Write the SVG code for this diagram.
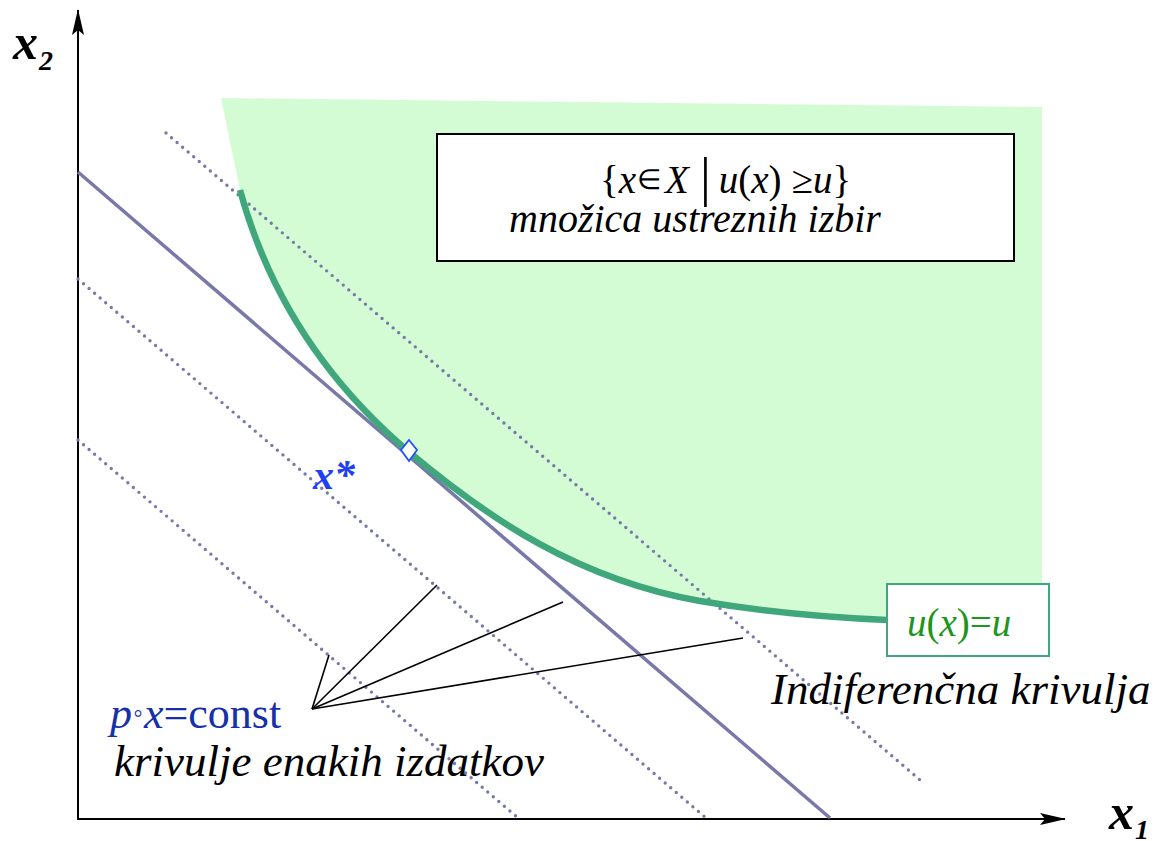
<svg xmlns="http://www.w3.org/2000/svg" width="1159" height="841" viewBox="0 0 1159 841">
<style>
.serif{font-family:"Liberation Serif","Times New Roman",serif;}
.it{font-style:italic;}
.dot{fill:none;stroke:#7878aa;stroke-width:3.4;stroke-linecap:round;stroke-dasharray:0 7.3;}
.lead{fill:none;stroke:#000;stroke-width:1.6;}
</style>
<defs>
<marker id="ah" viewBox="0 0 26 14" refX="25" refY="7" markerWidth="26" markerHeight="14" markerUnits="userSpaceOnUse" orient="auto">
<path d="M0,1 L26,7 L0,13 L5,7 Z" fill="#000"/>
</marker>
</defs>
<rect width="1159" height="841" fill="#fff"/>

<g id="region">
<path d="M221,98 L1042,107 L1042,600 L887,620 C840,618 770,613 700,601 C580,580 490,520 409,452 C330,385 270,300 240,190 Z" fill="#d4fcd4"/>
</g>

<g id="connectors">
<line x1="78" y1="820" x2="78" y2="10" stroke="#000" stroke-width="2" marker-end="url(#ah)"/>
<line x1="77" y1="819" x2="1065" y2="819" stroke="#000" stroke-width="2" marker-end="url(#ah)"/>
<line class="dot" x1="166" y1="133" x2="920" y2="780"/>
<line class="dot" x1="78" y1="279" x2="706" y2="818"/>
<line class="dot" x1="78" y1="440" x2="518" y2="818"/>
<line x1="78" y1="172" x2="830" y2="818" stroke="#7878aa" stroke-width="3.5"/>
<path d="M240,190 C270,300 330,385 409,452 C490,520 580,580 700,601 C770,613 840,618 887,620" fill="none" stroke="#3fa77b" stroke-width="6.5"/>
<line class="lead" x1="312" y1="709" x2="329" y2="655"/>
<line class="lead" x1="312" y1="709" x2="437" y2="585"/>
<line class="lead" x1="312" y1="709" x2="563" y2="602"/>
<line class="lead" x1="312" y1="709" x2="743" y2="638"/>
</g>

<g id="optimum">
<path d="M409,440 L417,450 L409,461 L401,450 Z" fill="#fff" stroke="#2050ff" stroke-width="1.8"/>
<text x="313" y="489" class="serif it" font-size="42" font-weight="bold" fill="#1f3ff5">x*</text>
</g>

<g id="setbox">
<rect x="437" y="134" width="577" height="127" fill="#fff" stroke="#000" stroke-width="2"/>
<text class="serif" font-size="39" x="600" y="193">{<tspan class="it">x</tspan><tspan font-size="28" dx="1" dy="-4">∈</tspan><tspan class="it" dx="4" dy="4">X</tspan><tspan font-size="54" dx="11" dy="2">|</tspan><tspan class="it" dx="8" dy="-2">u</tspan>(<tspan class="it">x</tspan>)<tspan dx="10">≥</tspan><tspan class="it">u</tspan>}</text>
<text x="509" y="232" class="serif it" font-size="40">množica ustreznih izbir</text>
</g>

<g id="ubox">
<rect x="887" y="584" width="162" height="72" fill="#fff" stroke="#40a87a" stroke-width="2"/>
<text x="907" y="636" class="serif" font-size="39" fill="#1c961c"><tspan class="it">u</tspan>(<tspan class="it">x</tspan>)=<tspan class="it">u</tspan></text>
</g>

<g id="labels">
<text x="771" y="704" class="serif it" font-size="45">Indiferenčna krivulja</text>
<text x="110" y="728" class="serif" font-size="44" fill="#1530a8"><tspan class="it">p</tspan><tspan font-size="28" dx="1" dy="-6">◦</tspan><tspan class="it" dx="1" dy="6">x</tspan>=const</text>
<text x="114" y="776" class="serif it" font-size="45">krivulje enakih izdatkov</text>
<text x="13" y="59" class="serif it" font-size="50" font-weight="bold">x</text>
<text x="39" y="70" class="serif it" font-size="28" font-weight="bold">2</text>
<text x="1109" y="829" class="serif it" font-size="50" font-weight="bold">x</text>
<text x="1135" y="839" class="serif it" font-size="28" font-weight="bold">1</text>
</g>
</svg>
